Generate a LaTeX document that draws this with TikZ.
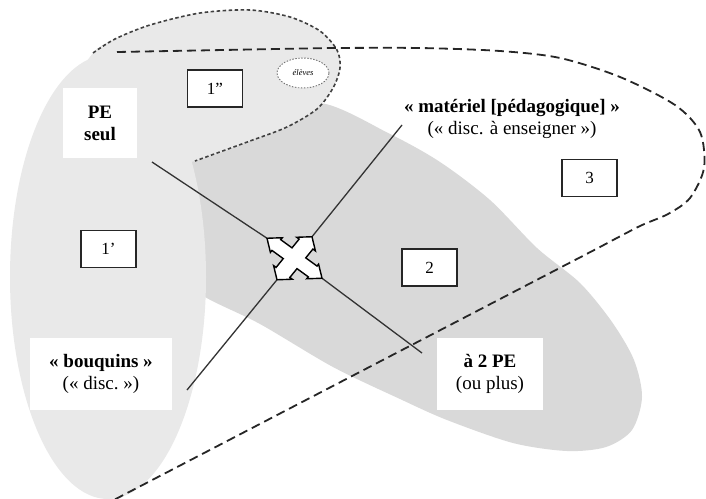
\documentclass[tikz,border=0pt]{standalone}
\usepackage{fontspec}
\setmainfont{Liberation Serif}
\usetikzlibrary{shapes.geometric}
\definecolor{lightzone}{gray}{0.915}
\definecolor{midzone}{gray}{0.85}
\begin{document}
\begin{tikzpicture}[x=1pt,y=-1pt,
  lbl/.style={fill=white, inner sep=0pt, align=center, font=\fontsize{19}{22}\selectfont},
  numbox/.style={draw=black!85, line width=1.5pt, fill=white, minimum width=55pt,
    minimum height=37pt, inner sep=0pt, font=\fontsize{17}{20}\selectfont},
  link/.style={draw=black!80, line width=1.3pt},
  bigdash/.style={draw=black!85, line width=1.8pt, dash pattern=on 9pt off 5pt},
  smalldot/.style={draw=black!75, line width=1.6pt, dash pattern=on 3.5pt off 2.5pt},
]
\useasboundingbox (0,0) rectangle (706,498);
\clip (0,0) rectangle (706,498);
\fill[white] (0,0) rectangle (706,498);

% zone 2: the long tilted region
\fill[midzone] plot[smooth cycle] coordinates {
  (150,215) (185,160) (255,122) (320,103) (390,134) (440,162) (490,200)
  (537,248) (580,283) (612,322) (634,360) (642,397) (632,430) (606,447)
  (567,451) (513,443) (447,420) (400,399) (333,367) (260,324) (205,297)
  (165,268)};

% zone 1'': upper region
\fill[lightzone] plot[smooth cycle] coordinates {
  (93,53) (115,39) (150,25) (200,13) (250,10) (290,17) (320,31) (337,50)
  (340,68) (333,88) (317,109) (287,127) (250,141) (195,161) (140,166)
  (90,140) (70,95)};

% zone 1': vertical region on the left
\fill[lightzone] (108,277) ellipse [x radius=98pt, y radius=222pt];

% dotted outline of zone 1''
\draw[smalldot] plot[smooth] coordinates {
  (93,53) (115,39) (150,25) (200,13) (250,10) (290,17) (320,31) (337,50)
  (340,68) (333,88) (317,109) (287,127) (250,141) (195,161)};

% small dotted ellipse
\node[ellipse, draw=black!55, line width=0.9pt, dash pattern=on 1.5pt off 1.5pt,
  fill=white, minimum width=52pt, minimum height=30pt, inner sep=0pt,
  font=\fontsize{8.5}{9}\selectfont\itshape] (eleves) at (303,73) {élèves};

% zone 3: dashed outline
\draw[bigdash] (117,52) -- plot[smooth] coordinates {
  (330,48) (420,48) (500,51) (560,58) (620,77) (675,105) (700,132)
  (704,168) (690,198) (668,214) (640,226) (600,247)} -- (108,503);

% line ends next to the labels
\coordinate (pe-tie) at (152,162);
\coordinate (mat-tie) at (402,125);
\coordinate (bq-tie) at (187,390);
\coordinate (two-tie) at (422,353);

% central four-way arrow and the four links
\begin{scope}[shift={(294.5,258.25)}, x={(27.5pt,-20pt)}, y={(-17.5pt,-21.5pt)}]
  \coordinate (xbr) at (1,0);
  \coordinate (xbl) at (0,1);
  \coordinate (xtl) at (-1,0);
  \coordinate (xtr) at (0,-1);
  \draw[link] (pe-tie) -- (xtl);
  \draw[link] (mat-tie) -- (xtr);
  \draw[link] (bq-tie) -- (xbl);
  \draw[link] (two-tie) -- (xbr);
  \filldraw[fill=white, draw=black, line width=1.4pt, line join=miter]
    (1,0) -- (.66,.34) -- (.66,.25) -- (.25,.25) -- (.25,.66) -- (.34,.66) --
    (0,1) -- (-.34,.66) -- (-.25,.66) -- (-.25,.25) -- (-.66,.25) -- (-.66,.34) --
    (-1,0) -- (-.66,-.34) -- (-.66,-.25) -- (-.25,-.25) -- (-.25,-.66) -- (-.34,-.66) --
    (0,-1) -- (.34,-.66) -- (.25,-.66) -- (.25,-.25) -- (.66,-.25) -- (.66,-.34) -- cycle;
\end{scope}

% labels
\node[lbl, minimum width=74pt, minimum height=70pt] (pe) at (100,123)
  {\textbf{PE}\\\textbf{seul}};
\node[lbl, fill=none] (mat) at (512,119)
  {\textbf{«~matériel [pédagogique]~»}\\(«~disc. à enseigner~»)};
\node[lbl, minimum width=142pt, minimum height=72pt] (bq) at (101,374)
  {\textbf{«~bouquins~»}\\(«~disc.~»)};
\node[lbl, minimum width=106pt, minimum height=72pt] (two) at (490,374)
  {\textbf{à 2 PE}\\(ou plus)};

% zone numbers
\node[numbox] (n1b) at (215,88.5) {1''};
\node[numbox] (n1a) at (108.5,249) {1'};
\node[numbox] (n2) at (429.5,267.5) {2};
\node[numbox] (n3) at (589.5,178) {3};
\end{tikzpicture}
\end{document}
